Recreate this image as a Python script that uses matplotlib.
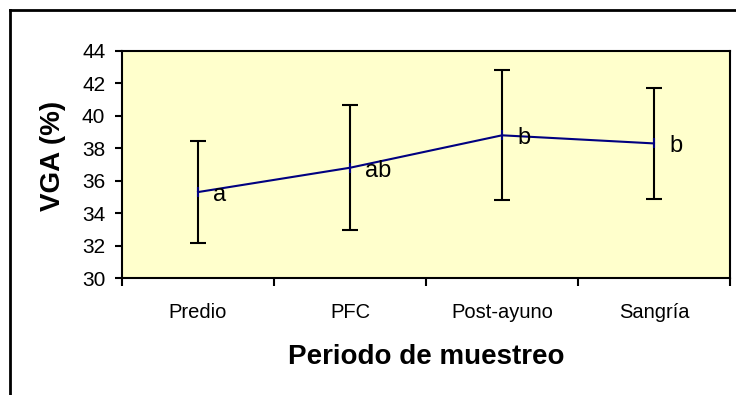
import matplotlib.pyplot as plt
from matplotlib.lines import Line2D

periodos = ['Predio', 'PFC', 'Post-ayuno', 'Sangría']
vga_media = [35.3, 36.8, 38.8, 38.3]
vga_de = [3.15, 3.85, 4.0, 3.4]
letras = ['a', 'ab', 'b', 'b']

plt.rcParams['font.family'] = ['Liberation Sans', 'DejaVu Sans']

fig = plt.figure(figsize=(7.36, 3.95), dpi=100)
ax = fig.add_axes([0.1658, 0.2962, 0.8260, 0.5747])
ax.set_facecolor('#FFFFCC')

x = list(range(1, len(periodos) + 1))
ax.errorbar(x, vga_media, yerr=vga_de, fmt='none', ecolor='black',
            elinewidth=1.5, capsize=5.5, capthick=1.5, zorder=2)
ax.plot(x, vga_media, color='#000080', lw=1.5, marker='|',
        markersize=7, markeredgewidth=1.5, zorder=3)

for xi, yi, txt in zip(x, vga_media, letras):
    ax.annotate(txt, (xi, yi), textcoords='offset points', xytext=(11, -2),
                ha='left', va='center', fontsize=17)

ax.set_xlim(0.5, 4.5)
ax.set_ylim(30, 44)
ax.set_yticks(range(30, 45, 2))
ax.set_xticks(x)
ax.set_xticklabels(periodos, fontsize=14.5)
ax.set_xticks([0.5, 1.5, 2.5, 3.5, 4.5], minor=True)
ax.tick_params(axis='x', which='major', length=0, pad=18)
ax.tick_params(axis='x', which='minor', length=6, width=1.5)
ax.tick_params(axis='y', length=5, width=1.5, pad=7, labelsize=15)
for s in ax.spines.values():
    s.set_linewidth(1.5)

ax.set_xlabel('Periodo de muestreo', fontsize=20, fontweight='bold', labelpad=16)
ax.set_ylabel('VGA (%)', fontsize=20, fontweight='bold')
ax.yaxis.set_label_coords(-0.1135, 0.537)
ax.yaxis.label.set_va('center')

# marco exterior del grafico
fig.add_artist(Line2D([10 / 736, 10 / 736], [0, 1 - 10 / 395], color='black', lw=2))
fig.add_artist(Line2D([10 / 736, 1], [1 - 10 / 395, 1 - 10 / 395], color='black', lw=2))

fig.savefig('out.png', dpi=100)
